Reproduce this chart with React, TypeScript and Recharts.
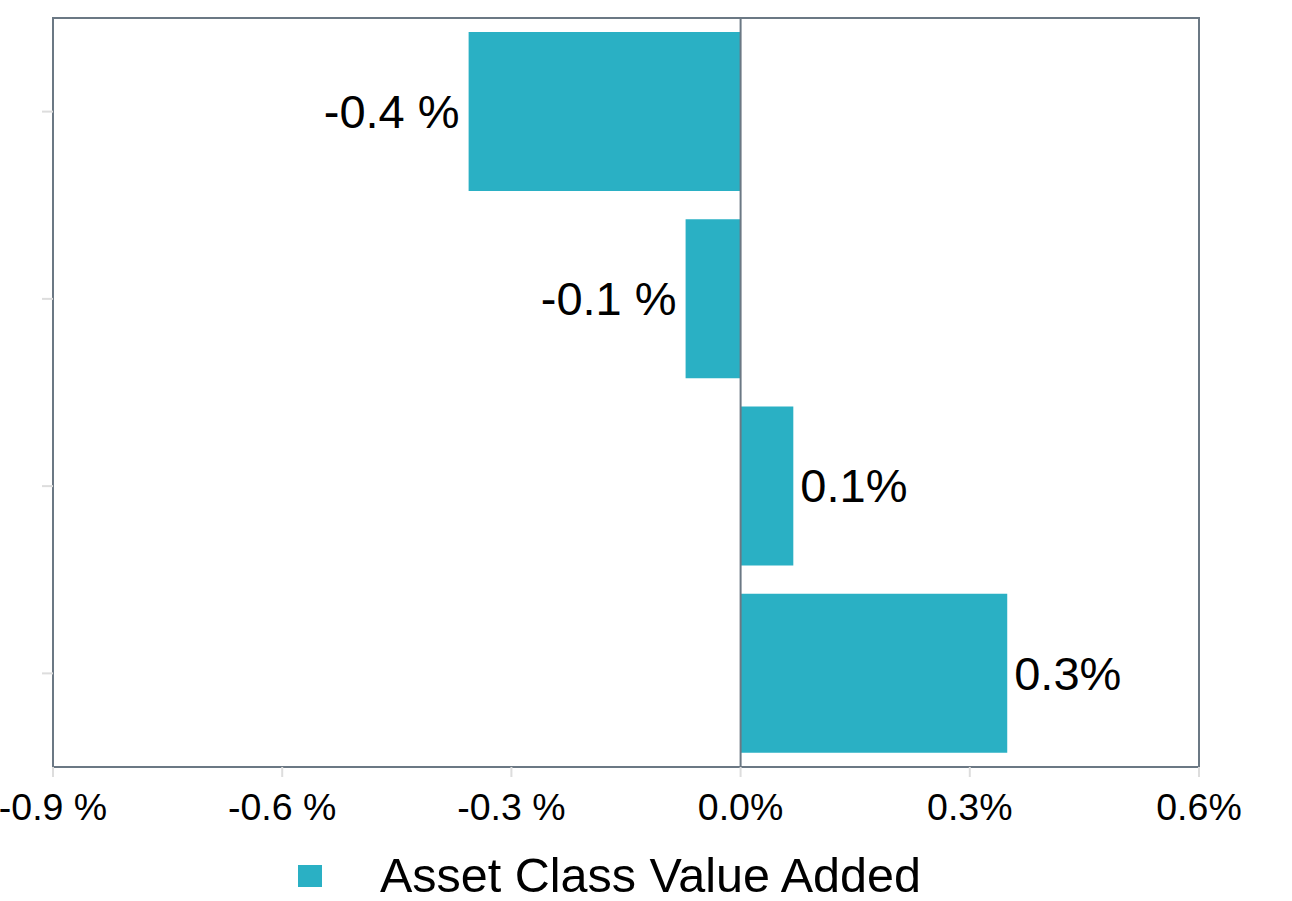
import { BarChart, Bar, XAxis, YAxis, ReferenceLine, ReferenceArea, Legend, LabelList } from 'recharts'

const categories = ['Class 1', 'Class 2', 'Class 3', 'Class 4']
const valueAdded = [-0.356, -0.072, 0.069, 0.349]
const xTicks = [-0.9, -0.6, -0.3, 0, 0.3, 0.6]
const seriesName = 'Asset Class Value Added'

const barColor = '#2ab0c4'
const borderColor = '#6b7884'
const font = 'Liberation Sans, Arial, Helvetica, sans-serif'

const data = categories.map((c, i) => ({ category: c, value: valueAdded[i] }))

const fmt = (v: number) => (v < 0 ? `${v.toFixed(1)} %` : `${Math.abs(v).toFixed(1)}%`)

function BarLabel(props: any) {
  const { x, y, width, height, value } = props
  const left = Math.min(x, x + width)
  const right = Math.max(x, x + width)
  const neg = value < 0
  return (
    <text
      x={neg ? left - 9 : right + 7}
      y={y + height / 2}
      dy="0.35em"
      textAnchor={neg ? 'end' : 'start'}
      fontSize={47}
      fontFamily={font}
      fill="#000"
    >
      {fmt(value)}
    </text>
  )
}

function LegendBox() {
  return (
    <div style={{ height: 50, position: 'relative', fontFamily: font }}>
      <div style={{ position: 'absolute', left: 298, top: 14, width: 24, height: 22, background: barColor }} />
      <div style={{ position: 'absolute', left: 380, top: -5, fontSize: 48.5, lineHeight: '58px', color: '#000', whiteSpace: 'nowrap' }}>
        {seriesName}
      </div>
    </div>
  )
}

export default function App() {
  return (
    <div style={{ position: 'absolute', left: 0, top: 0, background: '#fff' }}>
      <BarChart
        width={1292}
        height={901}
        data={data}
        layout="vertical"
        margin={{ top: 18, right: 93, bottom: 0, left: 0 }}
        barCategoryGap="7.5%"
      >
        <XAxis
          type="number"
          domain={[-0.9, 0.6]}
          ticks={xTicks}
          allowDataOverflow
          height={84}
          axisLine={false}
          tickSize={10}
          tickMargin={16}
          tickLine={{ stroke: '#dddddd', strokeWidth: 2 }}
          tick={{ fontSize: 37.5, fontFamily: font, fill: '#000' }}
          tickFormatter={fmt}
        />
        <YAxis
          type="category"
          dataKey="category"
          width={53}
          axisLine={false}
          tickSize={11}
          tickLine={{ stroke: '#dddddd', strokeWidth: 2 }}
          tick={() => <g />}
        />
        <Bar dataKey="value" name={seriesName} fill={barColor} isAnimationActive={false}>
          <LabelList dataKey="value" content={<BarLabel />} />
        </Bar>
        <ReferenceLine x={0} stroke={borderColor} strokeWidth={2} />
        <ReferenceArea x1={-0.9} x2={0.6} fill="none" stroke={borderColor} strokeWidth={2} />
        <Legend verticalAlign="bottom" content={() => <LegendBox />} />
      </BarChart>
    </div>
  )
}
